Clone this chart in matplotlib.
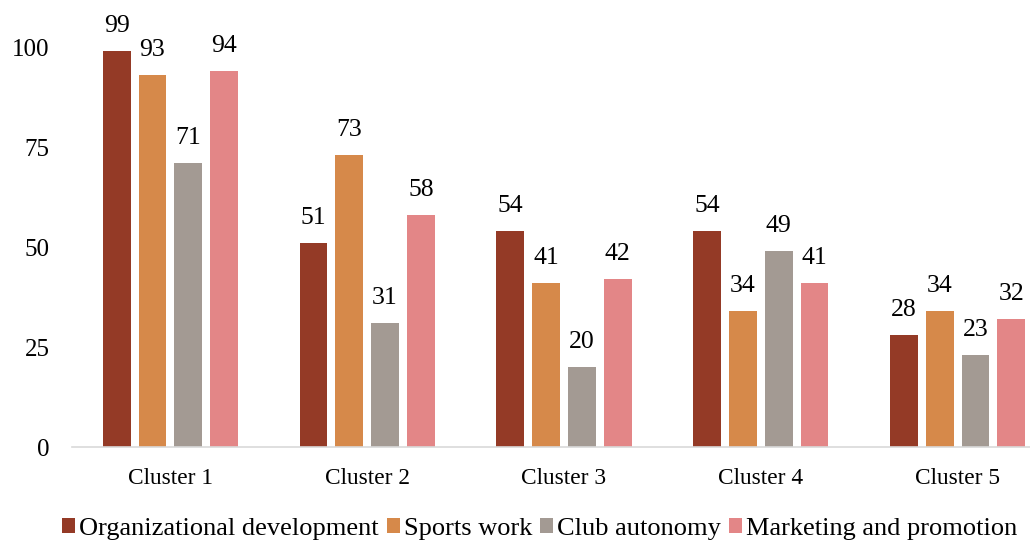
import matplotlib
matplotlib.use("Agg")
import matplotlib.pyplot as plt
from matplotlib.font_manager import FontProperties
import numpy as np

categories = ["Cluster 1", "Cluster 2", "Cluster 3", "Cluster 4", "Cluster 5"]
series_names = ["Organizational development", "Sports work", "Club autonomy", "Marketing and promotion"]
org_dev = [99, 51, 54, 54, 28]
sports_work = [93, 73, 41, 34, 34]
club_autonomy = [71, 31, 20, 49, 23]
marketing = [94, 58, 42, 41, 32]
yticks = [0, 25, 50, 75, 100]

colors = ["#943A26", "#D6894A", "#A39A93", "#E38687"]
series = [org_dev, sports_work, club_autonomy, marketing]

plt.rcParams['font.family'] = ['Liberation Serif', 'DejaVu Serif']

fig = plt.figure(figsize=(10.3, 5.4), dpi=100)
ax = fig.add_axes([72/1030, 1-447/540, (1056-72)/1030, (447-47)/540])

x = np.arange(len(categories))
width = 0.142
offsets = [-0.273, -0.091, 0.091, 0.273]
handles = []
for vals, off, c, name in zip(series, offsets, colors, series_names):
    b = ax.bar(x + off, vals, width, color=c, label=name)
    handles.append(b)
    for xi, v in zip(x, vals):
        ax.text(xi + off, v + 3.5, str(v), ha='center', va='bottom', fontsize=18.5)

ax.set_xlim(-0.5, 4.5)
ax.set_ylim(0, 100)
ax.set_yticks(yticks)
ax.set_yticklabels([str(t) for t in yticks], fontsize=18)
ax.set_xticks(x)
ax.set_xticklabels(categories, fontsize=16.8)
ax.tick_params(axis='both', length=0)
ax.tick_params(axis='y', pad=16)
ax.tick_params(axis='x', pad=15)
for s in ['top', 'right', 'left']:
    ax.spines[s].set_visible(False)
ax.spines['bottom'].set_color('#D9D9D9')
ax.spines['bottom'].set_linewidth(1.2)

fig.legend(handles=handles, labels=series_names, loc='center', bbox_to_anchor=(0.524, 1-529/540),
           ncol=4, frameon=False, prop=FontProperties(family='Liberation Serif', size=19),
           handlelength=0.5, handleheight=0.5,
           handletextpad=0.15, columnspacing=0.3, borderaxespad=0, borderpad=0)

fig.savefig("out.png", dpi=100)
